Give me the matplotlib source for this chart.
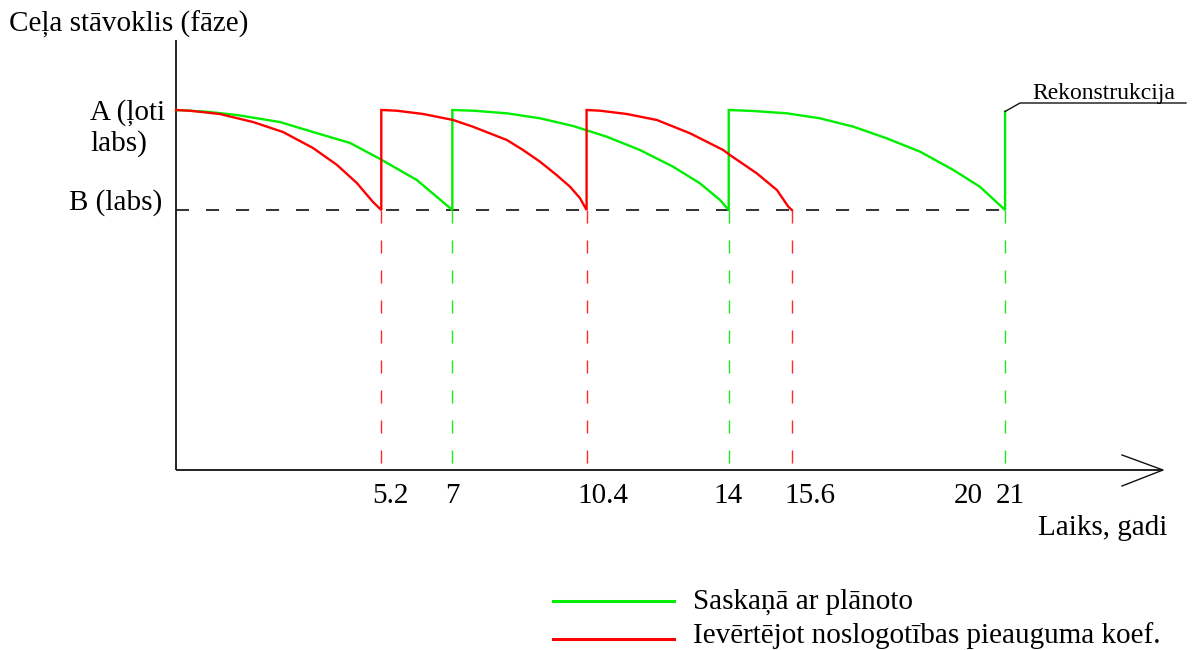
import matplotlib
matplotlib.use("Agg")
import matplotlib.pyplot as plt

plt.rcParams['font.family'] = ['Liberation Serif', 'DejaVu Serif']
plt.rcParams['lines.scale_dashes'] = False

# Road condition levels (phase scale): B = "labs", A = "ļoti labs"
LEVEL_A = 2.0
LEVEL_B = 1.0

# Planned schedule (green): condition over time within each cycle, years
green_cycles = [
    ([0.0, 0.78, 1.54, 2.63, 3.47, 4.41, 5.17, 6.10, 6.94, 7.0],
     [2.0, 1.983, 1.95, 1.88, 1.78, 1.67, 1.51, 1.30, 1.02, 1.0]),
    ([7.0, 7.53, 8.38, 9.22, 10.06, 10.91, 11.75, 12.59, 13.27, 13.78, 14.0],
     [2.0, 1.993, 1.967, 1.917, 1.84, 1.733, 1.60, 1.433, 1.267, 1.10, 1.0]),
    ([14.0, 14.62, 15.47, 16.31, 17.16, 18.0, 18.85, 19.69, 20.36, 21.0],
     [2.0, 1.99, 1.967, 1.917, 1.833, 1.717, 1.583, 1.40, 1.233, 1.0]),
]
# Reconstruction at the end of the planned period
reconstruction_year = 21.0
reconstruction_level = 1.985

# With the traffic-load growth coefficient (red)
red_cycles = [
    ([0.0, 0.35, 1.11, 1.95, 2.71, 3.47, 4.08, 4.58, 4.99, 5.2],
     [2.0, 1.993, 1.96, 1.88, 1.78, 1.62, 1.45, 1.27, 1.08, 1.0]),
    ([5.2, 5.59, 6.26, 7.02, 7.52, 8.38, 8.79, 9.22, 9.64, 9.98, 10.23, 10.4],
     [2.0, 1.993, 1.96, 1.90, 1.833, 1.70, 1.60, 1.483, 1.35, 1.233, 1.12, 1.0]),
    ([10.4, 10.74, 11.42, 12.18, 13.02, 13.86, 14.03, 14.71, 15.22, 15.51, 15.6],
     [2.0, 1.993, 1.96, 1.90, 1.767, 1.60, 1.55, 1.367, 1.20, 1.033, 1.0]),
]

green_repairs = [7, 14, 21]
red_repairs = [5.2, 10.4, 15.6]

tick_values = [5.2, 7, 10.4, 14, 15.6, 20, 21]
tick_labels = ["5.2", "7", "10.4", "14", "15.6", "20", "21"]
tick_label_shift_px = [9, 0, 16, -1, 18, 3, 5]

title_text = "Ceļa stāvoklis (fāze)"
label_a = "A (ļoti\nlabs)"
label_b = "B (labs)"
x_title = "Laiks, gadi"
note_text = "Rekonstrukcija"
legend_labels = ["Saskaņā ar plānoto", "Ievērtējot noslogotības pieauguma koef."]

GREEN = "#00ee00"
RED = "#ff0000"

W, H = 1196, 650
fig = plt.figure(figsize=(W / 100, H / 100), dpi=100)
ax = fig.add_axes([0, 0, 1, 1])
ax.axis('off')

# pixel <-> data mapping: origin of the time axis at x=176 px, 39.48 px per year;
# level B at y=210 px, 100 px per phase unit
PX_PER_YEAR = 39.48
X0_PX = 176
YB_PX = 210
PX_PER_UNIT = 100


def dx(px):
    return (px - X0_PX) / PX_PER_YEAR


def dy(py):
    return LEVEL_B + (YB_PX - py) / PX_PER_UNIT


ax.set_xlim(dx(0), dx(W))
ax.set_ylim(dy(H), dy(0))

BASE = dy(470)

# axes with arrow on the time axis
ax.plot([0, 0], [BASE, dy(40)], color="#111111", lw=1.3, solid_capstyle='butt')
ax.plot([0, dx(1163)], [BASE, BASE], color="#111111", lw=1.3, solid_capstyle='butt')
ax.plot([dx(1122), dx(1163), dx(1122)], [dy(455), BASE, dy(486)],
        color="#111111", lw=1.0)

# level B dashed reference
ax.plot([0, reconstruction_year], [LEVEL_B, LEVEL_B], color="#222222", lw=1.3,
        linestyle=(0, (9.4, 12.2)))

# drop lines to the time axis
for t in red_repairs:
    ax.plot([t, t], [LEVEL_B, BASE], color="#ff2a2a", lw=1.0,
            linestyle=(0, (9.4, 12.2)))
for t in green_repairs:
    ax.plot([t, t], [LEVEL_B, BASE], color="#22e822", lw=1.0,
            linestyle=(0, (9.4, 12.2)))

# condition curves
gx, gy = [], []
for xs, ys in green_cycles:
    gx += xs
    gy += ys
gx.append(reconstruction_year)
gy.append(reconstruction_level)
rx, ry = [], []
for xs, ys in red_cycles:
    rx += xs
    ry += ys
ax.plot(gx, gy, color=GREEN, lw=1.7, solid_joinstyle='miter')
ax.plot(rx, ry, color=RED, lw=1.7, solid_joinstyle='miter')

FS = 21
# tick labels
for v, lab, sh in zip(tick_values, tick_labels, tick_label_shift_px):
    ax.text(v + sh / PX_PER_YEAR, dy(496), lab, ha='center', va='center', fontsize=FS)

ax.text(dx(9), dy(24), title_text, ha='left', va='center', fontsize=FS)
ax.text(dx(90), dy(128), label_a, ha='left', va='center', fontsize=FS, linespacing=1.22)
ax.text(dx(162), dy(203), label_b, ha='right', va='center', fontsize=FS)
ax.text(dx(1038), dy(528), x_title, ha='left', va='center', fontsize=FS)

# reconstruction note with leader
ax.plot([reconstruction_year, dx(1020), dx(1186)],
        [reconstruction_level, dy(103), dy(103)], color="#111111", lw=1.0)
ax.text(dx(1032), dy(99), note_text, ha='left', va='baseline', fontsize=17)

# legend
for yy, ty, col, lab in [(601, 602, GREEN, legend_labels[0]),
                         (639, 636, RED, legend_labels[1])]:
    ax.plot([dx(553), dx(674)], [dy(yy), dy(yy)], color=col, lw=2.2)
    ax.text(dx(693), dy(ty), lab, ha='left', va='center', fontsize=FS)

fig.savefig("out.png", dpi=100)
